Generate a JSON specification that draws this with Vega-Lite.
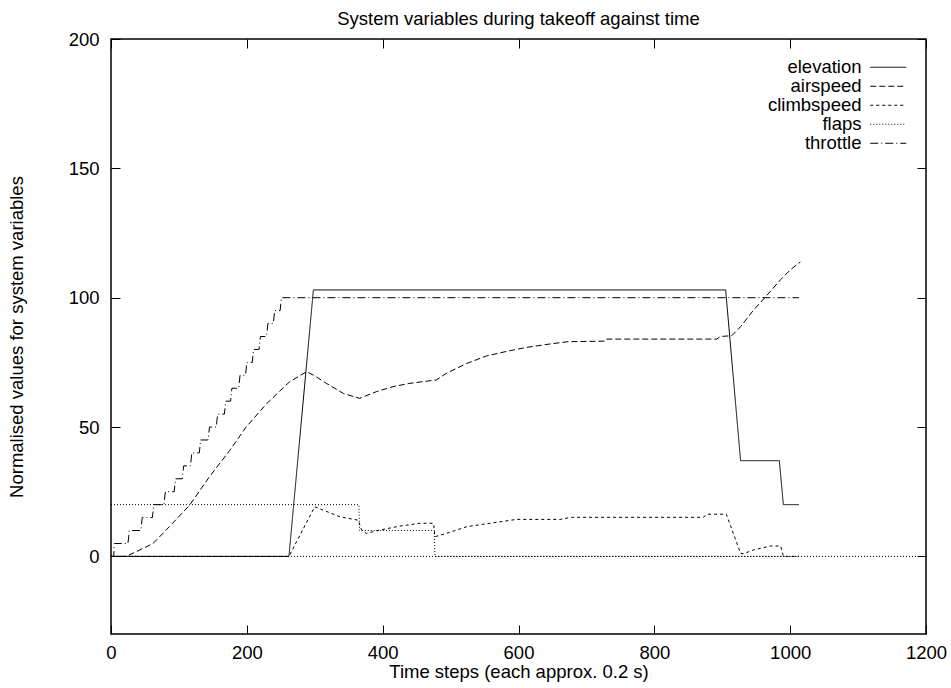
{
  "$schema": "https://vega.github.io/schema/vega-lite/v6.json",
  "width": 815,
  "height": 595,
  "autosize": {"type": "none"},
  "padding": {"left": 111, "top": 39, "right": 25, "bottom": 54},
  "background": "white",
  "title": {"text": "System variables during takeoff against time", "font": "Liberation Sans", "fontSize": 18.5, "fontWeight": "normal", "color": "black", "anchor": "middle", "baseline": "bottom", "offset": -17},
  "config": {
    "view": {"stroke": "black", "strokeWidth": 1.5},
    "font": "Liberation Sans",
    "axis": {"domain": false, "grid": false, "tickColor": "black", "tickWidth": 1, "tickSize": -9, "labelPadding": 21, "labelFont": "Liberation Sans", "labelFontSize": 18.5, "labelColor": "black", "labelFlush": false, "labelOverlap": false, "format": "d", "titleFont": "Liberation Sans", "titleFontSize": 18.5, "titleFontWeight": "normal", "titleColor": "black"}
  },
  "datasets": {
    "d": [
      {"t": 0, "s": "elevation", "v": 0}, {"t": 262, "s": "elevation", "v": 0}, {"t": 298, "s": "elevation", "v": 103}, {"t": 905, "s": "elevation", "v": 103}, {"t": 927, "s": "elevation", "v": 37}, {"t": 984, "s": "elevation", "v": 37}, {"t": 990, "s": "elevation", "v": 20}, {"t": 1013, "s": "elevation", "v": 20},

      {"t": 0, "s": "airspeed", "v": 0}, {"t": 22, "s": "airspeed", "v": 0}, {"t": 37, "s": "airspeed", "v": 1.8}, {"t": 62, "s": "airspeed", "v": 5}, {"t": 86, "s": "airspeed", "v": 11.5}, {"t": 116, "s": "airspeed", "v": 19.9}, {"t": 145, "s": "airspeed", "v": 30.8}, {"t": 175, "s": "airspeed", "v": 41}, {"t": 199, "s": "airspeed", "v": 50}, {"t": 229, "s": "airspeed", "v": 59}, {"t": 263, "s": "airspeed", "v": 67.5}, {"t": 288, "s": "airspeed", "v": 71.4}, {"t": 300, "s": "airspeed", "v": 69.8}, {"t": 317, "s": "airspeed", "v": 66.9}, {"t": 342, "s": "airspeed", "v": 63}, {"t": 366, "s": "airspeed", "v": 61.1}, {"t": 391, "s": "airspeed", "v": 63.7}, {"t": 415, "s": "airspeed", "v": 65.6}, {"t": 440, "s": "airspeed", "v": 66.9}, {"t": 479, "s": "airspeed", "v": 68.2}, {"t": 494, "s": "airspeed", "v": 70.8}, {"t": 524, "s": "airspeed", "v": 74.6}, {"t": 553, "s": "airspeed", "v": 77.5}, {"t": 587, "s": "airspeed", "v": 79.5}, {"t": 612, "s": "airspeed", "v": 80.8}, {"t": 646, "s": "airspeed", "v": 82.1}, {"t": 673, "s": "airspeed", "v": 83}, {"t": 728, "s": "airspeed", "v": 83.2}, {"t": 730, "s": "airspeed", "v": 84}, {"t": 892, "s": "airspeed", "v": 84}, {"t": 897, "s": "airspeed", "v": 85}, {"t": 914, "s": "airspeed", "v": 85.3}, {"t": 927, "s": "airspeed", "v": 88.8}, {"t": 946, "s": "airspeed", "v": 95.2}, {"t": 966, "s": "airspeed", "v": 101}, {"t": 986, "s": "airspeed", "v": 107}, {"t": 1000, "s": "airspeed", "v": 110.7}, {"t": 1015, "s": "airspeed", "v": 113.8},

      {"t": 0, "s": "climbspeed", "v": 0}, {"t": 262, "s": "climbspeed", "v": 0}, {"t": 300, "s": "climbspeed", "v": 19.2}, {"t": 337, "s": "climbspeed", "v": 15.3}, {"t": 364, "s": "climbspeed", "v": 14}, {"t": 369, "s": "climbspeed", "v": 10.2}, {"t": 376, "s": "climbspeed", "v": 8.9}, {"t": 396, "s": "climbspeed", "v": 10.2}, {"t": 425, "s": "climbspeed", "v": 11.7}, {"t": 455, "s": "climbspeed", "v": 12.8}, {"t": 475, "s": "climbspeed", "v": 12.8}, {"t": 477, "s": "climbspeed", "v": 7.6}, {"t": 494, "s": "climbspeed", "v": 8.9}, {"t": 524, "s": "climbspeed", "v": 11.5}, {"t": 563, "s": "climbspeed", "v": 13}, {"t": 597, "s": "climbspeed", "v": 14.3}, {"t": 661, "s": "climbspeed", "v": 14.3}, {"t": 678, "s": "climbspeed", "v": 15.1}, {"t": 872, "s": "climbspeed", "v": 15.1}, {"t": 878, "s": "climbspeed", "v": 16.3}, {"t": 906, "s": "climbspeed", "v": 16.3}, {"t": 927, "s": "climbspeed", "v": 1.2}, {"t": 931, "s": "climbspeed", "v": 1}, {"t": 946, "s": "climbspeed", "v": 2.5}, {"t": 971, "s": "climbspeed", "v": 4}, {"t": 986, "s": "climbspeed", "v": 4}, {"t": 990, "s": "climbspeed", "v": 0}, {"t": 1013, "s": "climbspeed", "v": 0},

      {"t": 0, "s": "flaps", "v": 20}, {"t": 365, "s": "flaps", "v": 20}, {"t": 366, "s": "flaps", "v": 10}, {"t": 476, "s": "flaps", "v": 10}, {"t": 477, "s": "flaps", "v": 0}, {"t": 1013, "s": "flaps", "v": 0},

      {"t": 0, "s": "throttle", "v": 0}, {"t": 4, "s": "throttle", "v": 0}, {"t": 5, "s": "throttle", "v": 5}, {"t": 25, "s": "throttle", "v": 5}, {"t": 27, "s": "throttle", "v": 10}, {"t": 44, "s": "throttle", "v": 10}, {"t": 46, "s": "throttle", "v": 15}, {"t": 61, "s": "throttle", "v": 15}, {"t": 63, "s": "throttle", "v": 20}, {"t": 78, "s": "throttle", "v": 20}, {"t": 80, "s": "throttle", "v": 25}, {"t": 93, "s": "throttle", "v": 25}, {"t": 95, "s": "throttle", "v": 30}, {"t": 105, "s": "throttle", "v": 30}, {"t": 107, "s": "throttle", "v": 35}, {"t": 117, "s": "throttle", "v": 35}, {"t": 119, "s": "throttle", "v": 40}, {"t": 130, "s": "throttle", "v": 40}, {"t": 132, "s": "throttle", "v": 45}, {"t": 143, "s": "throttle", "v": 45}, {"t": 145, "s": "throttle", "v": 50}, {"t": 155, "s": "throttle", "v": 50}, {"t": 157, "s": "throttle", "v": 55}, {"t": 167, "s": "throttle", "v": 55}, {"t": 169, "s": "throttle", "v": 60}, {"t": 176, "s": "throttle", "v": 60}, {"t": 178, "s": "throttle", "v": 65}, {"t": 188, "s": "throttle", "v": 65}, {"t": 190, "s": "throttle", "v": 70}, {"t": 198, "s": "throttle", "v": 70}, {"t": 200, "s": "throttle", "v": 75}, {"t": 208, "s": "throttle", "v": 75}, {"t": 210, "s": "throttle", "v": 80}, {"t": 218, "s": "throttle", "v": 80}, {"t": 220, "s": "throttle", "v": 85}, {"t": 229, "s": "throttle", "v": 85}, {"t": 231, "s": "throttle", "v": 90}, {"t": 239, "s": "throttle", "v": 90}, {"t": 241, "s": "throttle", "v": 95}, {"t": 249, "s": "throttle", "v": 95}, {"t": 251, "s": "throttle", "v": 100}, {"t": 1013, "s": "throttle", "v": 100}
    ]
  },
  "layer": [
    {
      "data": {"name": "d"},
      "mark": {"type": "line", "color": "black", "strokeWidth": 1},
      "encoding": {
        "x": {"field": "t", "type": "quantitative", "scale": {"domain": [0, 1200], "nice": false, "zero": false},
              "axis": {"orient": "bottom", "values": [0, 200, 400, 600, 800, 1000, 1200], "labelPadding": 18, "title": "Time steps (each approx. 0.2 s)", "titlePadding": 1}},
        "y": {"field": "v", "type": "quantitative", "scale": {"domain": [-30, 200], "nice": false, "zero": false},
              "axis": {"orient": "left", "values": [0, 50, 100, 150, 200], "title": "Normalised values for system variables", "titleX": -85}},
        "strokeDash": {"field": "s", "type": "nominal",
          "scale": {"domain": ["elevation", "airspeed", "climbspeed", "flaps", "throttle"], "range": [[1, 0], [6, 3], [3, 3], [1, 2], [8, 3, 1, 3]]},
          "legend": {"orient": "none", "legendX": 768, "legendY": 19, "title": null, "symbolType": "M-3,0H3", "symbolSize": 144, "symbolStrokeWidth": 1, "symbolStrokeColor": "black", "symbolFillColor": "transparent", "labelAlign": "right", "labelOffset": -36, "labelFont": "Liberation Sans", "labelFontSize": 18.5, "labelColor": "black", "labelLimit": 300, "rowPadding": -0.5}}
      }
    },
    {
      "data": {"values": [{}]},
      "mark": {"type": "rule", "color": "black", "strokeWidth": 1, "strokeDash": [1, 2]},
      "encoding": {
        "x": {"datum": 0, "type": "quantitative", "scale": {"domain": [0, 1200], "nice": false, "zero": false},
              "axis": {"orient": "top", "values": [0, 200, 400, 600, 800, 1000, 1200], "labels": false, "title": null}},
        "x2": {"datum": 1200},
        "y": {"datum": 0, "type": "quantitative", "scale": {"domain": [-30, 200], "nice": false, "zero": false},
              "axis": {"orient": "right", "values": [0, 50, 100, 150, 200], "labels": false, "title": null}}
      }
    }
  ],
  "resolve": {"axis": {"x": "independent", "y": "independent"}}
}
